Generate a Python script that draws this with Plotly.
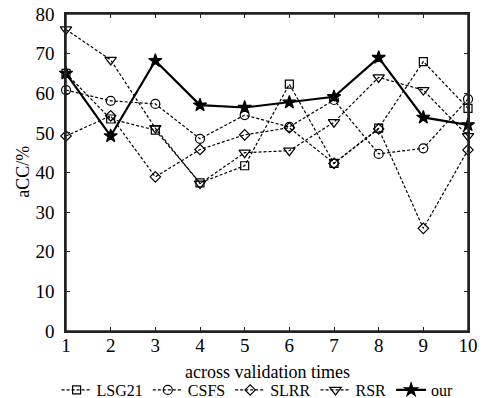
import plotly.graph_objects as go

x_vals = [1, 2, 3, 4, 5, 6, 7, 8, 9, 10]
lsg21 = [65.0, 53.5, 50.7, 37.4, 41.7, 62.3, 42.3, 51.2, 68.0, 56.2]
csfs = [60.8, 58.1, 57.3, 48.5, 54.5, 51.5, 58.3, 44.7, 46.1, 58.5]
slrr = [49.2, 54.3, 38.9, 45.8, 49.5, 51.3, 42.3, 51.0, 25.9, 45.7]
rsr = [76.1, 68.4, 51.2, 37.2, 45.0, 45.5, 52.7, 64.0, 60.8, 49.2]
our = [65.0, 49.2, 68.2, 57.0, 56.4, 57.7, 59.1, 69.0, 53.9, 52.0]
y_ticks = [0, 10, 20, 30, 40, 50, 60, 70, 80]

FONT = "Liberation Serif"
dash = "3px,2px"

fig = go.Figure()
series = [
    ("LSG21", lsg21, "square-open", dash, 1.2, 8),
    ("CSFS", csfs, "circle-open", dash, 1.2, 9),
    ("SLRR", slrr, "diamond-open", dash, 1.2, 8),
    ("RSR", rsr, "triangle-down-open", dash, 1.2, 10),
    ("our", our, "star", "solid", 2.2, 10),
]
for name, ys, sym, d, w, sz in series:
    fig.add_trace(go.Scatter(
        x=x_vals, y=ys, name=name, mode="lines+markers",
        line=dict(color="black", width=w, dash=d),
        marker=dict(symbol=sym, size=sz, color="black",
                    line=dict(color="black", width=1.2)),
        cliponaxis=False,
    ))

axis_common = dict(
    showgrid=False, zeroline=False, showline=True, linecolor="#222",
    linewidth=1.5, mirror="ticks", ticks="inside", ticklen=4,
    tickcolor="#222", tickwidth=1.2, automargin=False,
    tickfont=dict(family=FONT, size=19, color="black"),
)
fig.update_xaxes(range=[1, 10], tickvals=x_vals, ticklabelstandoff=-4,
                 **axis_common)
fig.update_yaxes(range=[0, 80], tickvals=y_ticks, ticklabelstandoff=6,
                 **axis_common)

# plot frame
fig.add_shape(type="rect", xref="paper", yref="paper", x0=0, y0=0, x1=1, y1=1,
              line=dict(color="#222", width=1.5), layer="above")

fig.add_annotation(text="across validation times", xref="paper", yref="paper",
                   x=0.5, y=-0.129, xanchor="center", yanchor="middle",
                   showarrow=False, font=dict(family=FONT, size=18, color="black"))
fig.add_annotation(text="aCC/%", xref="paper", yref="paper",
                   x=-0.109, y=0.503, xanchor="center", yanchor="middle", textangle=-90,
                   showarrow=False, font=dict(family=FONT, size=18, color="black"))

fig.update_layout(
    width=486, height=398,
    margin=dict(l=66, r=18, t=14, b=67),
    paper_bgcolor="white", plot_bgcolor="white",
    font=dict(family=FONT, color="black"),
    legend=dict(orientation="h", yref="container", y=0.02, yanchor="middle",
                x=0.53, xanchor="center", xref="container",
                font=dict(family=FONT, size=16, color="black"),
                itemwidth=30, tracegroupgap=0, bgcolor="rgba(0,0,0,0)"),
    showlegend=True,
)

fig.write_html("out.html", config={"displayModeBar": False},
               post_script="document.body.style.margin='0';document.body.style.overflow='hidden';")
